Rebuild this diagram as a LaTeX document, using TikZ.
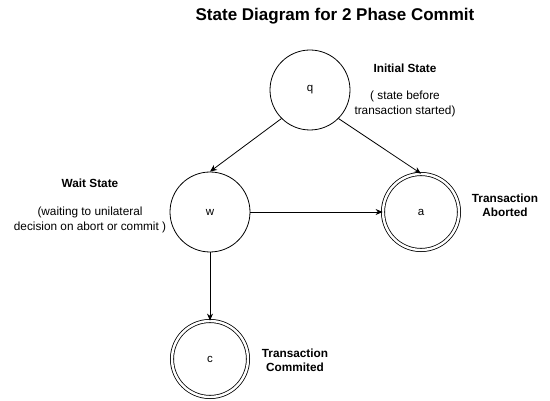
\documentclass[tikz,border=0pt]{standalone}
\usepackage{fontspec}
\setmainfont{Liberation Sans}
\usetikzlibrary{arrows.meta}
\begin{document}
\begin{tikzpicture}[x=1pt,y=-1pt,
  state/.style={circle,draw,line width=0.8pt,minimum size=80pt,inner sep=0pt,font=\fontsize{11.5}{13}\selectfont},
  final/.style={state,double=white,double distance=2.4pt,minimum size=76pt},
  lbl/.style={align=center,font=\fontsize{11.8}{14.5}\selectfont,inner sep=0pt},
  blbl/.style={align=center,font=\bfseries\fontsize{11.8}{14.2}\selectfont,inner sep=0pt},
  edge/.style={-{Stealth[length=7pt,width=6pt]},line width=0.8pt}]
\useasboundingbox (0,0) rectangle (550,401);
\node[font=\bfseries\fontsize{17}{19}\selectfont,inner sep=0pt] (title) at (335,16) {State Diagram for 2 Phase Commit};
\node[state] (q) at (310,90) {q};
\node[state] (w) at (210,212) {w};
\node[final] (a) at (421,212) {a};
\node[final] (c) at (210,359) {c};
\node[blbl] (lq) at (405,68) {Initial State};
\node[lbl] (lq2) at (405,104) {( state before\\transaction started)};
\node[blbl] (lw) at (90,183) {Wait State};
\node[lbl] (lw2) at (90,220) {(waiting to unilateral\\decision on abort or commit )};
\node[blbl] (la) at (505,205) {Transaction\\Aborted};
\node[blbl] (lc) at (295,360) {Transaction\\Commited};
\draw[edge] (q.south west) -- (w.north);
\draw[edge] (q.south east) -- (a.north);
\draw[edge] (w) -- (a);
\draw[edge] (w) -- (c);
\end{tikzpicture}
\end{document}
